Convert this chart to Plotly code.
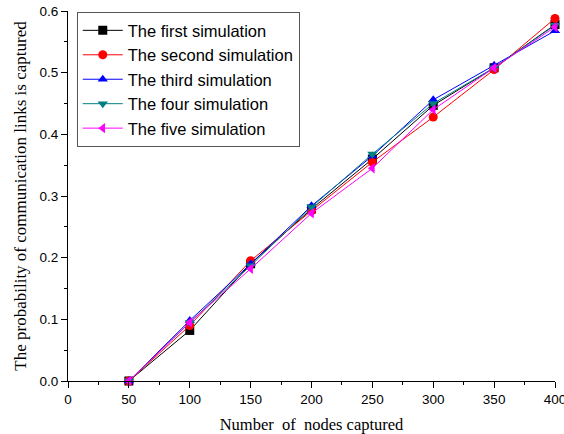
import plotly.graph_objects as go

nodes = [50, 100, 150, 200, 250, 300, 350, 400]
first = [0.0, 0.082, 0.190, 0.279, 0.360, 0.447, 0.508, 0.578]
second = [0.0, 0.090, 0.195, 0.276, 0.355, 0.428, 0.505, 0.588]
third = [0.0, 0.098, 0.190, 0.284, 0.365, 0.456, 0.512, 0.568]
four = [0.0, 0.095, 0.187, 0.282, 0.368, 0.450, 0.508, 0.577]
five = [0.0, 0.095, 0.182, 0.272, 0.345, 0.440, 0.508, 0.574]

names = ["The first simulation", "The second simulation", "The third simulation",
         "The four simulation", "The five simulation"]
series = [first, second, third, four, five]
colors = ["#000000", "#FF0000", "#0000FF", "#008080", "#FF00FF"]
symbols = ["square", "circle", "triangle-up", "triangle-down", "triangle-left"]

fig = go.Figure()
for n, s, c, sym in zip(names, series, colors, symbols):
    fig.add_trace(go.Scatter(
        x=nodes, y=s, name=n, mode="lines+markers",
        line=dict(color=c, width=1),
        marker=dict(symbol=sym, size=9, color=c),
        cliponaxis=False,
    ))

fig.update_layout(
    width=564, height=434,
    margin=dict(l=68, r=9, t=11, b=53, autoexpand=False),
    plot_bgcolor="white", paper_bgcolor="white",
    showlegend=True,
    legend=dict(
        x=0.018, y=0.997, xanchor="left", yanchor="top",
        bgcolor="white", bordercolor="#555555", borderwidth=1,
        font=dict(family="Liberation Sans, Arial", size=16.5, color="black"),
        tracegroupgap=0, itemwidth=40,
    ),
    font=dict(family="Liberation Sans, Arial", size=13.5, color="black"),
)
fig.update_xaxes(
    range=[0, 400], tickvals=[0, 50, 100, 150, 200, 250, 300, 350, 400],
    ticks="outside", ticklen=6, tickwidth=1, tickcolor="black",
    ticklabeloverflow="allow", automargin=False,
    minor=dict(dtick=25, ticks="outside", ticklen=3, tickcolor="black", tickwidth=1),
    showline=True, linecolor="black", linewidth=1, showgrid=False, zeroline=False,
    title=dict(text="Number  of  nodes captured",
               font=dict(family="Liberation Serif, Times New Roman", size=16.5), standoff=12),
)
fig.update_yaxes(
    range=[0, 0.6], tickvals=[0, 0.1, 0.2, 0.3, 0.4, 0.5, 0.6], tickformat=".1f",
    ticks="outside", ticklen=6, tickwidth=1, tickcolor="black",
    ticklabeloverflow="allow", automargin=False,
    minor=dict(dtick=0.05, ticks="outside", ticklen=3, tickcolor="black", tickwidth=1),
    showline=True, linecolor="black", linewidth=1, showgrid=False, zeroline=False,
    title=dict(text="The probability of communication links is captured",
               font=dict(family="Liberation Serif, Times New Roman", size=17), standoff=8),
)
fig.write_html("out.html")
